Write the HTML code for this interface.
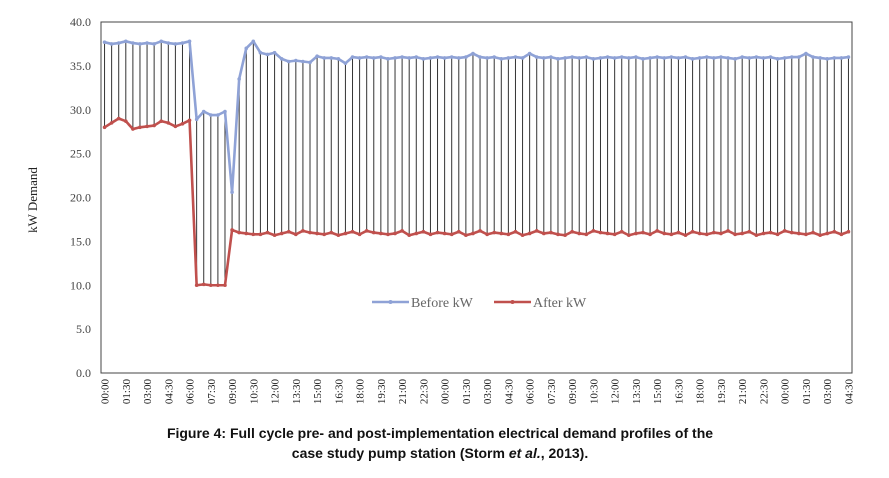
<!DOCTYPE html>
<html><head><meta charset="utf-8"><style>
body{margin:0;background:#fff;width:889px;height:478px;overflow:hidden}
svg{display:block}
</style></head><body>
<svg id="chart" width="889" height="478" xmlns="http://www.w3.org/2000/svg"></svg>
<script>
const xLabels=["00:00","01:30","03:00","04:30","06:00","07:30","09:00","10:30","12:00","13:30","15:00","16:30","18:00","19:30","21:00","22:30","00:00","01:30","03:00","04:30","06:00","07:30","09:00","10:30","12:00","13:30","15:00","16:30","18:00","19:30","21:00","22:30","00:00","01:30","03:00","04:30"];
const yTicks=[0,5,10,15,20,25,30,35,40];
const beforeKW=[37.7,37.5,37.6,37.8,37.6,37.5,37.6,37.5,37.8,37.6,37.5,37.6,37.8,28.9,29.8,29.4,29.4,29.8,20.6,33.5,37.0,37.8,36.5,36.3,36.5,35.8,35.5,35.6,35.5,35.4,36.1,35.9,35.9,35.8,35.3,36.0,35.9,36.0,35.9,36.0,35.8,35.9,36.0,35.9,36.0,35.8,35.9,36.0,35.9,36.0,35.9,36.0,36.4,36.0,35.9,36.0,35.8,35.9,36.0,35.9,36.4,36.0,35.9,36.0,35.8,35.9,36.0,35.9,36.0,35.8,35.9,36.0,35.9,36.0,35.9,36.0,35.8,35.9,36.0,35.9,36.0,35.9,36.0,35.8,35.9,36.0,35.9,36.0,35.9,35.8,36.0,35.9,36.0,35.9,36.0,35.8,35.9,36.0,36.0,36.4,36.0,35.9,35.8,35.9,35.9,36.0];
const afterKW=[28.0,28.5,29.0,28.7,27.8,28.0,28.1,28.2,28.7,28.5,28.1,28.4,28.8,10.0,10.1,10.0,10.0,10.0,16.3,16.0,15.9,15.8,15.8,16.0,15.7,15.9,16.1,15.8,16.2,16.0,15.9,15.8,16.0,15.7,15.9,16.1,15.8,16.2,16.0,15.9,15.8,15.9,16.2,15.7,15.9,16.1,15.8,16.0,15.9,15.8,16.1,15.7,15.9,16.2,15.8,16.0,15.9,15.8,16.1,15.7,15.9,16.2,15.9,16.0,15.8,15.7,16.1,15.9,15.8,16.2,16.0,15.9,15.8,16.1,15.7,15.9,16.0,15.8,16.2,15.9,15.8,16.0,15.7,16.1,15.9,15.8,16.0,15.9,16.2,15.8,15.9,16.1,15.7,15.9,16.0,15.8,16.2,16.0,15.9,15.8,16.0,15.7,15.9,16.1,15.8,16.1];
const NS="http://www.w3.org/2000/svg";
const svg=document.getElementById('chart');
const L=101,R=852,T=22,B=373;
const n=beforeKW.length;
const step=(R-L)/n;
function xs(i){return L+step*(i+0.5);}
function ys(v){return B-(v/40)*(B-T);}
function mk(tag,attrs,parent){const e=document.createElementNS(NS,tag);for(const k in attrs)e.setAttribute(k,attrs[k]);(parent||svg).appendChild(e);return e;}
// plot border
const border=mk('rect',{x:L,y:T,width:R-L,height:B-T,fill:'none',stroke:'#444','stroke-width':1});


// y ticks
yTicks.forEach(v=>{const t=mk('text',{x:91,y:ys(v)+4,'text-anchor':'end','font-family':'Liberation Serif, serif','font-size':12,fill:'#444'});t.textContent=v.toFixed(1);

});
const yt=mk('text',{x:0,y:0,transform:'translate(37,200) rotate(-90)','text-anchor':'middle','font-family':'Liberation Serif, serif','font-size':13,fill:'#222'});yt.textContent='kW Demand';


// x labels
xLabels.forEach((s,k)=>{const x=xs(k*3);const t=mk('text',{x:0,y:0,transform:`translate(${x+4},379) rotate(-90)`,'text-anchor':'end','font-family':'Liberation Serif, serif','font-size':11,fill:'#222'});t.textContent=s;

});
// drop lines
for(let i=0;i<n;i++){const l=mk('line',{x1:xs(i),x2:xs(i),y1:ys(beforeKW[i]),y2:ys(afterKW[i]),stroke:'#333','stroke-width':1});

}
function series(data,color,name){
 const p=mk('polyline',{points:data.map((v,i)=>xs(i)+','+ys(v)).join(' '),fill:'none',stroke:color,'stroke-width':2.6,'stroke-linejoin':'round'});
 
 
 data.forEach((v,i)=>{const c=mk('circle',{cx:xs(i),cy:ys(v),r:1.8,fill:color});
 
 });
}
series(beforeKW,'#8fa2d6','before-kw');
series(afterKW,'#c0504d','after-kw');
// legend
function leg(x,color,label,name){
 const g=mk('g',{});
 
 
 mk('line',{x1:x,x2:x+37,y1:302,y2:302,stroke:color,'stroke-width':2.6},g);
 mk('circle',{cx:x+18.5,cy:302,r:2,fill:color},g);
 const t=mk('text',{x:x+39,y:307,'font-family':'Liberation Serif, serif','font-size':14,fill:'#666'},g);t.textContent=label;
}
leg(372,'#8fa2d6','Before kW','before');
leg(494,'#c0504d','After kW','after');
// caption
const c1=mk('text',{x:440,y:438,'text-anchor':'middle','font-family':'Liberation Sans, sans-serif','font-size':14,'font-weight':'bold',fill:'#111'});c1.textContent='Figure 4: Full cycle pre- and post-implementation electrical demand profiles of the';


const c2=mk('text',{x:440,y:458,'text-anchor':'middle','font-family':'Liberation Sans, sans-serif','font-size':14,'font-weight':'bold',fill:'#111'});
c2.innerHTML='case study pump station (Storm <tspan font-style="italic">et al.</tspan>, 2013).';


</script>
</body></html>
